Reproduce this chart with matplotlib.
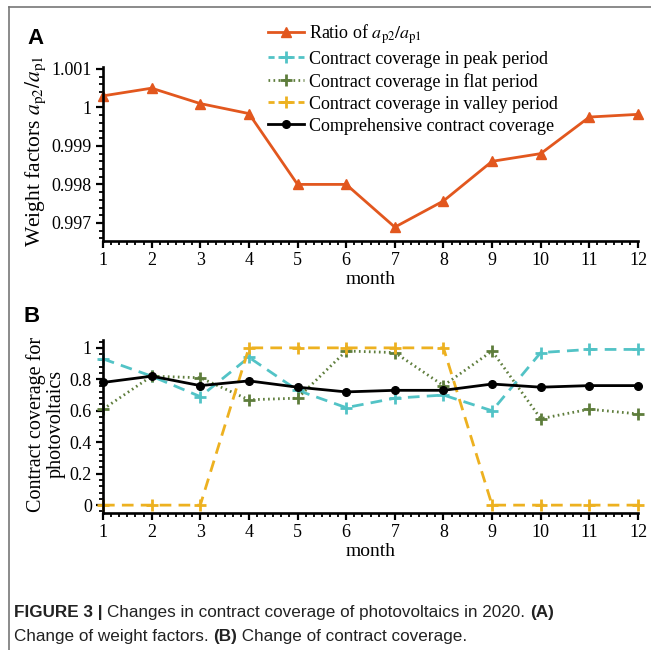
import matplotlib
matplotlib.use("Agg")
import matplotlib.pyplot as plt
from matplotlib.ticker import AutoMinorLocator, MultipleLocator
from matplotlib.lines import Line2D

# data
months = [1, 2, 3, 4, 5, 6, 7, 8, 9, 10, 11, 12]
ratio = [1.0003, 1.0005, 1.0001, 0.99984, 0.9980, 0.9980,
         0.99689, 0.99757, 0.9986, 0.9988, 0.99975, 0.99982]
peak = [0.93, 0.82, 0.69, 0.94, 0.73, 0.62, 0.68, 0.70, 0.60, 0.97, 0.99, 0.99]
flat = [0.61, 0.82, 0.81, 0.67, 0.68, 0.98, 0.97, 0.76, 0.98, 0.55, 0.61, 0.58]
valley = [0, 0, 0, 1, 1, 1, 1, 1, 0, 0, 0, 0]
overall = [0.78, 0.82, 0.76, 0.79, 0.75, 0.72, 0.73, 0.73, 0.77, 0.75, 0.76, 0.76]

ratio_ticks = [0.997, 0.998, 0.999, 1.0, 1.001]
ratio_labels = ["0.997", "0.998", "0.999", "1", "1.001"]
cov_ticks = [0, 0.2, 0.4, 0.6, 0.8, 1.0]
cov_labels = ["0", "0.2", "0.4", "0.6", "0.8", "1"]

plt.rcParams["font.family"] = "Liberation Serif"
plt.rcParams["mathtext.fontset"] = "stix"

W, H = 651, 650
fig = plt.figure(figsize=(6.51, 6.50), dpi=100)


def fx(px):
    return px / W


def fy(py):
    return 1 - py / H


def style_axes(ax):
    for s in ["top", "right"]:
        ax.spines[s].set_visible(False)
    for s in ["left", "bottom"]:
        ax.spines[s].set_linewidth(1.9)
    ax.tick_params(which="major", direction="out", length=5, width=1.6,
                   labelsize=13, pad=3)
    ax.tick_params(which="minor", direction="out", length=3, width=1.3)
    ax.set_xlim(1, 12)
    ax.xaxis.set_major_locator(MultipleLocator(1))
    ax.xaxis.set_minor_locator(AutoMinorLocator(6))
    ax.set_xticks(months)
    ax.set_xticklabels([str(m) for m in months])


# panel A
ax1 = fig.add_axes([fx(103), fy(241), fx(638) - fx(103), fy(67) - fy(241)])
style_axes(ax1)
ax1.plot(months, ratio, color="#E2571E", lw=2, marker="^", ms=7.5,
         label=r"Ratio of $a_{\mathrm{p2}}/a_{\mathrm{p1}}$", clip_on=False)
ax1.set_ylim(0.99653, 1.00105)
ax1.set_yticks(ratio_ticks)
ax1.set_yticklabels(ratio_labels)
ax1.yaxis.set_minor_locator(AutoMinorLocator(5))
ax1.set_xlabel("month", fontsize=14, labelpad=1)
fig.text(fx(36), fy(151), r"Weight factors $a_{\mathrm{p2}}/a_{\mathrm{p1}}$",
         rotation=90, fontsize=15.5, ha="center", va="center")

# panel B
ax2 = fig.add_axes([fx(103), fy(513), fx(638) - fx(103), fy(340) - fy(513)])
style_axes(ax2)
ax2.plot(months, peak, color="#52C3C6", lw=2, dashes=(4.2, 2.6), marker="+",
         ms=9, mew=2, clip_on=False)
ax2.plot(months, flat, color="#5E7D3C", lw=2, dashes=(0.6, 1.2), marker="+",
         ms=9, mew=2, clip_on=False)
ax2.plot(months, valley, color="#EDB120", lw=2, dashes=(4.2, 2.6), marker="+",
         ms=9, mew=2, clip_on=False)
ax2.plot(months, overall, color="black", lw=2, marker="o", ms=5.5,
         clip_on=False)
ax2.set_ylim(-0.05, 1.05)
ax2.set_yticks(cov_ticks)
ax2.set_yticklabels(cov_labels)
ax2.yaxis.set_minor_locator(AutoMinorLocator(5))
ax2.set_xlabel("month", fontsize=14, labelpad=1)
fig.text(fx(46), fy(424), "Contract coverage for\nphotovoltaics", rotation=90,
         fontsize=14.5, ha="center", va="center", linespacing=1.1,
         multialignment="center")

# legend for both panels
handles = [
    Line2D([], [], color="#E2571E", lw=2, marker="^", ms=7.5),
    Line2D([], [], color="#52C3C6", lw=2, dashes=(2.2, 1.4), marker="+", ms=9, mew=2),
    Line2D([], [], color="#5E7D3C", lw=2, dashes=(0.6, 1.2), marker="+", ms=9, mew=2),
    Line2D([], [], color="#EDB120", lw=2, dashes=(2.2, 1.4), marker="+", ms=9, mew=2),
    Line2D([], [], color="black", lw=2, marker="o", ms=5.5),
]
labels = [r"Ratio of $a_{\mathrm{p2}}/a_{\mathrm{p1}}$",
          "Contract coverage in peak period",
          "Contract coverage in flat period",
          "Contract coverage in valley period",
          "Comprehensive contract coverage"]
fig.legend(handles, labels, loc="upper left", bbox_to_anchor=(fx(268), fy(22)),
           frameon=False, fontsize=13, handlelength=2.0, handletextpad=0.25,
           labelspacing=0.28, borderpad=0, borderaxespad=0)

# panel letters
fig.text(fx(36), fy(38), "A", family="Liberation Sans", fontweight="bold",
         fontsize=16, ha="center", va="center")
fig.text(fx(32), fy(317), "B", family="Liberation Sans", fontweight="bold",
         fontsize=16, ha="center", va="center")

# outer frame
fig.add_artist(Line2D([fx(9), fx(9)], [fy(7), 0], color="#777777", lw=1.2))
fig.add_artist(Line2D([fx(9), 1], [fy(7), fy(7)], color="#777777", lw=1.2))

# caption
renderer = fig.canvas.get_renderer()


def write_runs(x, y, runs, size=12.3):
    for txt, weight in runs:
        t = fig.text(x, y, txt, family="Liberation Sans", fontweight=weight,
                     fontsize=size, color="#222222", va="baseline")
        x += t.get_window_extent(renderer).width / W


write_runs(fx(14), fy(617), [("FIGURE 3 | ", "bold"),
                             ("Changes in contract coverage of photovoltaics in 2020. ", "normal"),
                             ("(A)", "bold")])
write_runs(fx(14), fy(641), [("Change of weight factors. ", "normal"),
                             ("(B)", "bold"),
                             (" Change of contract coverage.", "normal")])

fig.savefig("out.png", dpi=100)
